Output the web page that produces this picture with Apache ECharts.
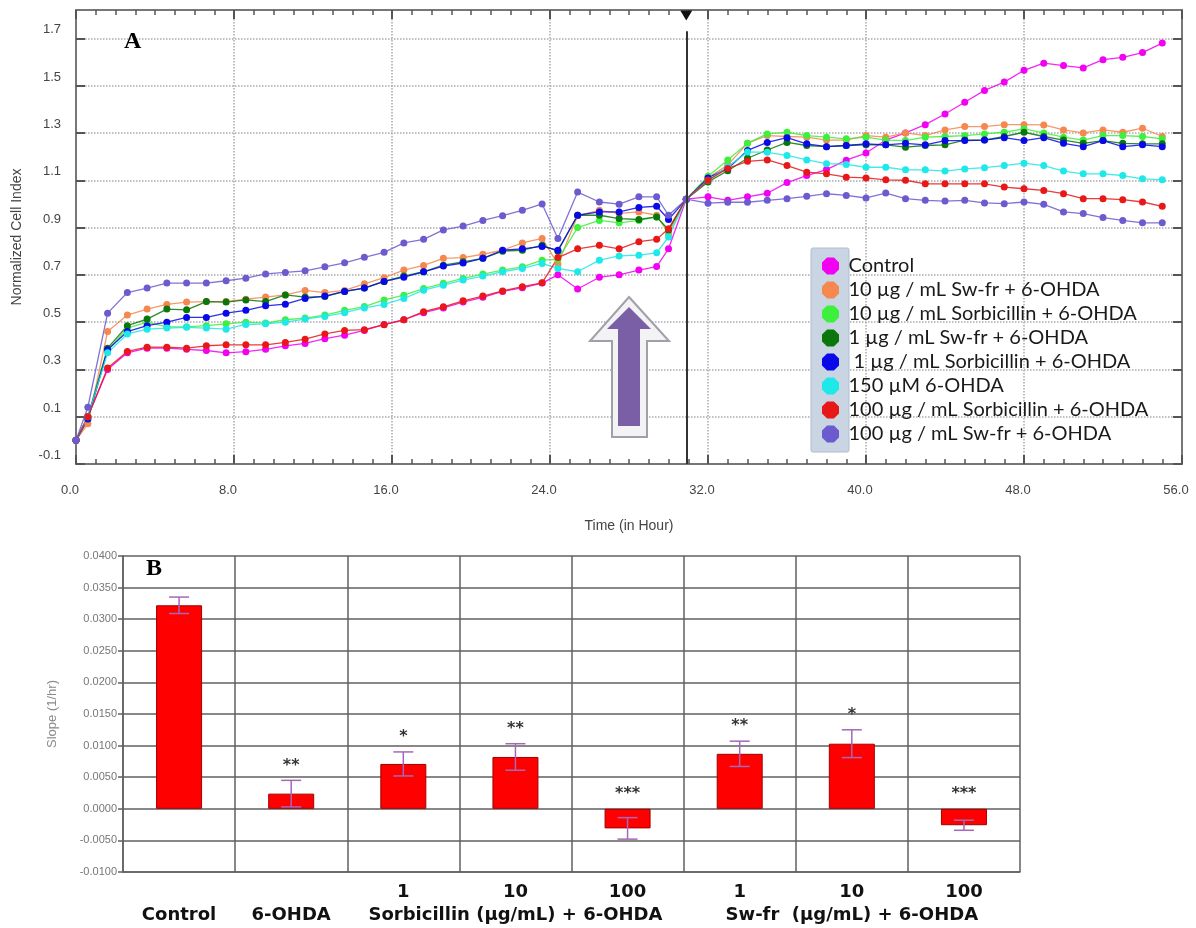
<!DOCTYPE html>
<html>
<head>
<meta charset="utf-8">
<title>Cell index and slope</title>
<style>
  html, body { margin: 0; padding: 0; background: #fff; }
  #chart { width: 1196px; height: 928px; }
</style>
<script src="https://cdn.jsdelivr.net/npm/echarts@6/dist/echarts.min.js"></script>
</head>
<body>
<div id="chart"></div>
<script>
// ---- panel A: normalized cell index over time ----
const hours = [0, 0.6, 1.6, 2.6, 3.6, 4.6, 5.6, 6.6, 7.6, 8.6, 9.6, 10.6, 11.6, 12.6, 13.6, 14.6,
    15.6, 16.6, 17.6, 18.6, 19.6, 20.6, 21.6, 22.6, 23.6, 24.4, 25.4, 26.5, 27.5, 28.5, 29.4, 30.0, 30.9,
    32, 33, 34, 35, 36, 37, 38, 39, 40, 41, 42, 43, 44, 45, 46, 47, 48, 49, 50, 51, 52, 53, 54, 55];

const seriesNames = [
    "Control",
    "10 µg / mL Sw-fr + 6-OHDA",
    "10 µg / mL Sorbicillin + 6-OHDA",
    "1 µg / mL Sw-fr + 6-OHDA",
    " 1 µg / mL Sorbicillin + 6-OHDA",
    "150 µM 6-OHDA",
    "100 µg / mL Sorbicillin + 6-OHDA",
    "100 µg / mL Sw-fr + 6-OHDA",
];
const seriesColors = ["#f200f2", "#f5874f", "#3cf03c", "#0b760b", "#0808e8", "#1ee8e8", "#e81818", "#6b5bcf"];

const controlCI = [0.00, 0.10, 0.30, 0.37, 0.39, 0.39, 0.385, 0.38, 0.37, 0.375, 0.385, 0.40, 0.41, 0.43, 0.445, 0.465,
    0.49, 0.51, 0.54, 0.56, 0.585, 0.605, 0.63, 0.645, 0.665, 0.70, 0.64, 0.69, 0.70, 0.72, 0.735, 0.81, 1.02,
    1.03, 1.015, 1.03, 1.045, 1.09, 1.12, 1.145, 1.185, 1.215, 1.27, 1.30, 1.335, 1.38, 1.43, 1.48, 1.515, 1.565,
    1.595, 1.585, 1.575, 1.61, 1.62, 1.64, 1.68];
const swfr10CI = [0.00, 0.07, 0.46, 0.53, 0.555, 0.575, 0.585, 0.587, 0.587, 0.597, 0.606, 0.615, 0.634, 0.625, 0.634, 0.662,
    0.688, 0.72, 0.74, 0.77, 0.773, 0.787, 0.804, 0.835, 0.854, 0.745, 0.95, 0.973, 0.96, 0.966, 0.952, 0.875, 1.02,
    1.11, 1.164, 1.257, 1.289, 1.285, 1.282, 1.27, 1.27, 1.289, 1.282, 1.30, 1.289, 1.313, 1.327, 1.327, 1.335, 1.335,
    1.334, 1.313, 1.30, 1.313, 1.303, 1.32, 1.285];
const sorb10CI = [0.00, 0.09, 0.38, 0.475, 0.50, 0.48, 0.48, 0.485, 0.493, 0.50, 0.496, 0.51, 0.517, 0.53, 0.55, 0.566,
    0.594, 0.614, 0.642, 0.664, 0.685, 0.703, 0.72, 0.734, 0.762, 0.765, 0.90, 0.93, 0.92, 0.93, 0.945, 0.89, 1.02,
    1.117, 1.186, 1.257, 1.296, 1.303, 1.289, 1.282, 1.275, 1.282, 1.27, 1.268, 1.282, 1.285, 1.289, 1.296, 1.303, 1.317,
    1.30, 1.282, 1.27, 1.289, 1.289, 1.285, 1.275];
const swfr1CI = [0.00, 0.10, 0.39, 0.485, 0.513, 0.555, 0.552, 0.587, 0.585, 0.594, 0.587, 0.615, 0.606, 0.608, 0.63, 0.644,
    0.672, 0.695, 0.713, 0.741, 0.755, 0.77, 0.80, 0.804, 0.825, 0.80, 0.952, 0.952, 0.938, 0.934, 0.945, 0.89, 1.02,
    1.093, 1.14, 1.193, 1.228, 1.26, 1.247, 1.242, 1.247, 1.25, 1.25, 1.24, 1.247, 1.25, 1.27, 1.27, 1.285, 1.303,
    1.285, 1.27, 1.256, 1.268, 1.256, 1.254, 1.254];
const sorb1CI = [0.00, 0.09, 0.383, 0.46, 0.485, 0.50, 0.52, 0.52, 0.538, 0.55, 0.569, 0.576, 0.60, 0.61, 0.63, 0.644,
    0.672, 0.69, 0.713, 0.737, 0.75, 0.77, 0.804, 0.81, 0.82, 0.804, 0.952, 0.966, 0.966, 0.985, 0.99, 0.934, 1.02,
    1.11, 1.15, 1.226, 1.26, 1.28, 1.254, 1.242, 1.247, 1.254, 1.25, 1.256, 1.25, 1.268, 1.268, 1.27, 1.28, 1.268,
    1.28, 1.256, 1.242, 1.268, 1.242, 1.25, 1.242];
const ohdaCI = [0.00, 0.10, 0.37, 0.45, 0.47, 0.475, 0.478, 0.475, 0.47, 0.49, 0.493, 0.50, 0.513, 0.524, 0.54, 0.56,
    0.575, 0.60, 0.635, 0.656, 0.678, 0.695, 0.713, 0.727, 0.748, 0.727, 0.713, 0.762, 0.78, 0.783, 0.793, 0.86, 1.02,
    1.10, 1.157, 1.22, 1.218, 1.205, 1.186, 1.17, 1.167, 1.155, 1.155, 1.144, 1.144, 1.139, 1.148, 1.153, 1.162, 1.172,
    1.162, 1.139, 1.127, 1.127, 1.12, 1.106, 1.102];
const sorb100CI = [0.00, 0.10, 0.306, 0.376, 0.394, 0.394, 0.39, 0.40, 0.404, 0.404, 0.404, 0.414, 0.428, 0.45, 0.465, 0.468,
    0.489, 0.51, 0.544, 0.565, 0.59, 0.61, 0.632, 0.65, 0.666, 0.773, 0.81, 0.825, 0.81, 0.84, 0.85, 0.895, 1.02,
    1.10, 1.15, 1.18, 1.186, 1.162, 1.134, 1.127, 1.113, 1.11, 1.102, 1.10, 1.085, 1.085, 1.085, 1.085, 1.071, 1.064,
    1.057, 1.043, 1.022, 1.022, 1.018, 1.008, 0.99];
const swfr100CI = [0.00, 0.14, 0.538, 0.625, 0.644, 0.665, 0.665, 0.665, 0.675, 0.686, 0.704, 0.71, 0.717, 0.734, 0.751, 0.774,
    0.795, 0.835, 0.85, 0.89, 0.906, 0.93, 0.95, 0.973, 1.0, 0.854, 1.05, 1.008, 0.999, 1.03, 1.03, 0.952, 1.02,
    1.003, 1.007, 1.007, 1.015, 1.022, 1.032, 1.043, 1.036, 1.025, 1.046, 1.022, 1.015, 1.012, 1.015, 1.004, 1.001, 1.008,
    0.998, 0.966, 0.959, 0.942, 0.93, 0.92, 0.92];

const allCI = [controlCI, swfr10CI, sorb10CI, swfr1CI, sorb1CI, ohdaCI, sorb100CI, swfr100CI];

const yTicksA = [-0.1, 0.1, 0.3, 0.5, 0.7, 0.9, 1.1, 1.3, 1.5, 1.7];
const normHour = 30.9;

// ---- panel B: slope per group ----
const categories = ["Control", "6-OHDA", "Sorb 1", "Sorb 10", "Sorb 100", "Swfr 1", "Swfr 10", "Swfr 100"];
const doseLabels = ["", "", "1", "10", "100", "1", "10", "100"];
const groupLabels = ["Control", "6-OHDA", "", "Sorbicillin (µg/mL) + 6-OHDA", "", "", "Sw-fr  (µg/mL) + 6-OHDA", ""];
const slopes = [0.0322, 0.0024, 0.0071, 0.0082, -0.0031, 0.0087, 0.0103, -0.0026];
const slopeErr = [0.0013, 0.0021, 0.0019, 0.0021, 0.0017, 0.0020, 0.0022, 0.0008];
const stars = ["", "**", "*", "**", "***", "**", "*", "***"];

const chart = echarts.init(document.getElementById("chart"));

const octagon = "path://M3,0 L7,0 L10,3 L10,7 L7,10 L3,10 L0,7 L0,3 Z";
const axisGray = "#777";

const lineSeries = seriesNames.map((name, s) => {
    const item = {
        name: name,
        type: "line",
        xAxisIndex: 0,
        yAxisIndex: 0,
        data: hours.map((h, i) => [h, allCI[s][i]]),
        symbol: "circle",
        symbolSize: 7,
        showSymbol: true,
        color: seriesColors[s],
        lineStyle: { width: 1.3, opacity: 0.85 },
        z: 3,
        emphasis: { disabled: true },
    };
    if (s === 0) {
        // vertical marker at the normalization time
        item.markLine = {
            silent: true,
            symbol: ["none", "none"],
            label: { show: false },
            lineStyle: { color: "#333", width: 2, type: "solid" },
            data: [[{ coord: [normHour, -0.1] }, { coord: [normHour, 1.73] }]],
        };
        item.markPoint = {
            silent: true,
            symbol: "triangle",
            symbolRotate: 180,
            symbolSize: [12, 10],
            itemStyle: { color: "#111" },
            label: { show: false },
            data: [{ coord: [normHour, 1.797] }],
        };
    }
    return item;
});

const option = {
    animation: false,
    backgroundColor: "#fff",
    textStyle: { fontFamily: "Liberation Sans, Arial, sans-serif" },
    grid: [
        { left: 76, top: 10, width: 1106, height: 454, outerBoundsMode: "none" },
        { left: 123, top: 556, width: 897, height: 316, outerBoundsMode: "none" },
    ],
    legend: {
        data: seriesNames,
        orient: "vertical",
        left: 817,
        top: 251,
        z: 8,
        icon: octagon,
        itemWidth: 26,
        itemHeight: 17,
        itemGap: 4,
        itemTextGap: 8,
        selectedMode: false,
        textStyle: { color: "#1a1a1a", fontSize: 20, fontFamily: "Lato" },
    },
    xAxis: [
        {
            type: "value",
            gridIndex: 0,
            min: 0,
            max: 56,
            interval: 8,
            name: "Time (in Hour)",
            nameLocation: "middle",
            nameGap: 55,
            nameTextStyle: { color: "#444", fontSize: 14 },
            axisLine: { onZero: false, lineStyle: { color: axisGray, width: 2 } },
            axisTick: { inside: true, length: 9, lineStyle: { color: "#555", width: 2 } },
            minorTick: { show: true, splitNumber: 8, length: 5, lineStyle: { color: "#555", width: 1.5 } },
            axisLabel: {
                margin: 20,
                color: "#444",
                fontSize: 13,
                padding: [0, 12, 0, 0],
                formatter: (v) => v.toFixed(1),
            },
            splitLine: { show: true, lineStyle: { color: "#aaa", type: "dotted", width: 1.5 } },
        },
        {
            type: "value",
            gridIndex: 0,
            position: "top",
            min: 0,
            max: 56,
            interval: 8,
            axisLine: { onZero: false, lineStyle: { color: axisGray, width: 2 } },
            axisTick: { inside: true, length: 9, lineStyle: { color: "#555", width: 2 } },
            minorTick: { show: true, splitNumber: 8, length: 5, lineStyle: { color: "#555", width: 1.5 } },
            axisLabel: { show: false },
            splitLine: { show: false },
        },
        {
            type: "category",
            gridIndex: 1,
            data: categories,
            axisLine: { onZero: false, lineStyle: { color: "#606060", width: 1.5 } },
            axisTick: { length: 6, lineStyle: { color: "#606060", width: 1.5 } },
            splitLine: { show: true, lineStyle: { color: "#606060", width: 1.5 } },
            axisLabel: {
                interval: 0,
                margin: 9,
                formatter: (v, i) => `{dose|${doseLabels[i] || " "}}\n{grp|${groupLabels[i] || " "}}`,
                rich: {
                    dose: { fontFamily: "DejaVu Sans", fontWeight: "bold", fontSize: 18, color: "#111", lineHeight: 22 },
                    grp: { fontFamily: "DejaVu Sans", fontWeight: "bold", fontSize: 18, color: "#111", lineHeight: 24 },
                },
            },
        },
    ],
    yAxis: [
        {
            type: "value",
            gridIndex: 0,
            min: -0.1,
            max: 1.82,
            name: "Normalized Cell Index",
            nameLocation: "middle",
            nameGap: 52,
            nameTextStyle: { color: "#444", fontSize: 14 },
            axisLine: { show: true, onZero: false, lineStyle: { color: axisGray, width: 2 } },
            axisTick: { show: true, inside: true, length: 9, customValues: yTicksA, lineStyle: { color: "#555", width: 2 } },
            axisLabel: {
                customValues: yTicksA,
                margin: 15,
                verticalAlign: "bottom",
                padding: [0, 0, 2, 0],
                color: "#444",
                fontSize: 13,
                formatter: (v) => v.toFixed(1),
            },
            splitLine: { show: true, lineStyle: { color: "#aaa", type: "dotted", width: 1.5 } },
        },
        {
            type: "value",
            gridIndex: 0,
            position: "right",
            min: -0.1,
            max: 1.82,
            axisLine: { show: true, onZero: false, lineStyle: { color: axisGray, width: 2 } },
            axisTick: { show: true, inside: true, length: 9, customValues: yTicksA, lineStyle: { color: "#555", width: 2 } },
            axisLabel: { show: false },
            splitLine: { show: false },
        },
        {
            type: "value",
            gridIndex: 1,
            min: -0.01,
            max: 0.04,
            interval: 0.005,
            name: "Slope (1/hr)",
            nameLocation: "middle",
            nameGap: 64,
            nameTextStyle: { color: "#8a8a8a", fontSize: 13 },
            axisLine: { show: true, lineStyle: { color: "#606060", width: 1.5 } },
            axisTick: { show: true, length: 5, lineStyle: { color: "#606060", width: 1.5 } },
            axisLabel: { color: "#777", fontSize: 11, margin: 6, formatter: (v) => v.toFixed(4) },
            splitLine: { show: true, lineStyle: { color: "#606060", width: 1.5 } },
        },
    ],
    series: [
        ...lineSeries,
        {
            name: "slope",
            type: "bar",
            xAxisIndex: 2,
            yAxisIndex: 2,
            data: slopes,
            barWidth: 46,
            itemStyle: { color: "#ff0000", borderColor: "#a00000", borderWidth: 1 },
            emphasis: { disabled: true },
            z: 2,
        },
        {
            name: "slopeErr",
            type: "custom",
            xAxisIndex: 2,
            yAxisIndex: 2,
            data: slopes.map((v, i) => [i, v, slopeErr[i]]),
            z: 4,
            renderItem: (params, api) => {
                const i = api.value(0);
                const v = api.value(1);
                const e = api.value(2);
                const top = api.coord([i, v + e]);
                const bot = api.coord([i, v - e]);
                const hw = 10;
                const st = { stroke: "#a468b8", lineWidth: 1.5 };
                const children = [
                    { type: "line", shape: { x1: top[0], y1: top[1], x2: bot[0], y2: bot[1] }, style: st },
                    { type: "line", shape: { x1: top[0] - hw, y1: top[1], x2: top[0] + hw, y2: top[1] }, style: st },
                    { type: "line", shape: { x1: bot[0] - hw, y1: bot[1], x2: bot[0] + hw, y2: bot[1] }, style: st },
                ];
                if (stars[i]) {
                    const sy = api.coord([i, Math.max(v + e, 0)])[1] - 15;
                    children.push({
                        type: "text",
                        x: top[0],
                        y: sy,
                        style: {
                            text: stars[i],
                            align: "center",
                            verticalAlign: "middle",
                            fill: "#333",
                            font: "bold 16px DejaVu Sans",
                        },
                    });
                }
                return { type: "group", children: children };
            },
        },
    ],
    graphic: [
        // panel letters
        { type: "text", left: 124, top: 30, z: 10, style: { text: "A", font: "bold 24px Liberation Serif", fill: "#000" } },
        { type: "text", left: 146, top: 557, z: 10, style: { text: "B", font: "bold 24px Liberation Serif", fill: "#000" } },
        // backing panel behind legend icons
        {
            type: "rect",
            shape: { x: 811, y: 248, width: 38, height: 204, r: 2 },
            z: 1,
            style: { fill: "#c9d5e3", stroke: "#aebdd0", lineWidth: 1 },
        },
        // treatment arrow
        {
            type: "polygon",
            z: 4,
            shape: {
                points: [[629, 297], [669, 341], [647, 341], [647, 437], [612, 437], [612, 341], [590, 341]],
            },
            style: { fill: "#f3f3f6", stroke: "#a0a0a8", lineWidth: 2 },
        },
        {
            type: "polygon",
            z: 5,
            shape: {
                points: [[629, 307], [651, 329], [640, 329], [640, 426], [618, 426], [618, 329], [607, 329]],
            },
            style: { fill: "#7a5ea6" },
        },
    ],
};

chart.setOption(option);
</script>
</body>
</html>
